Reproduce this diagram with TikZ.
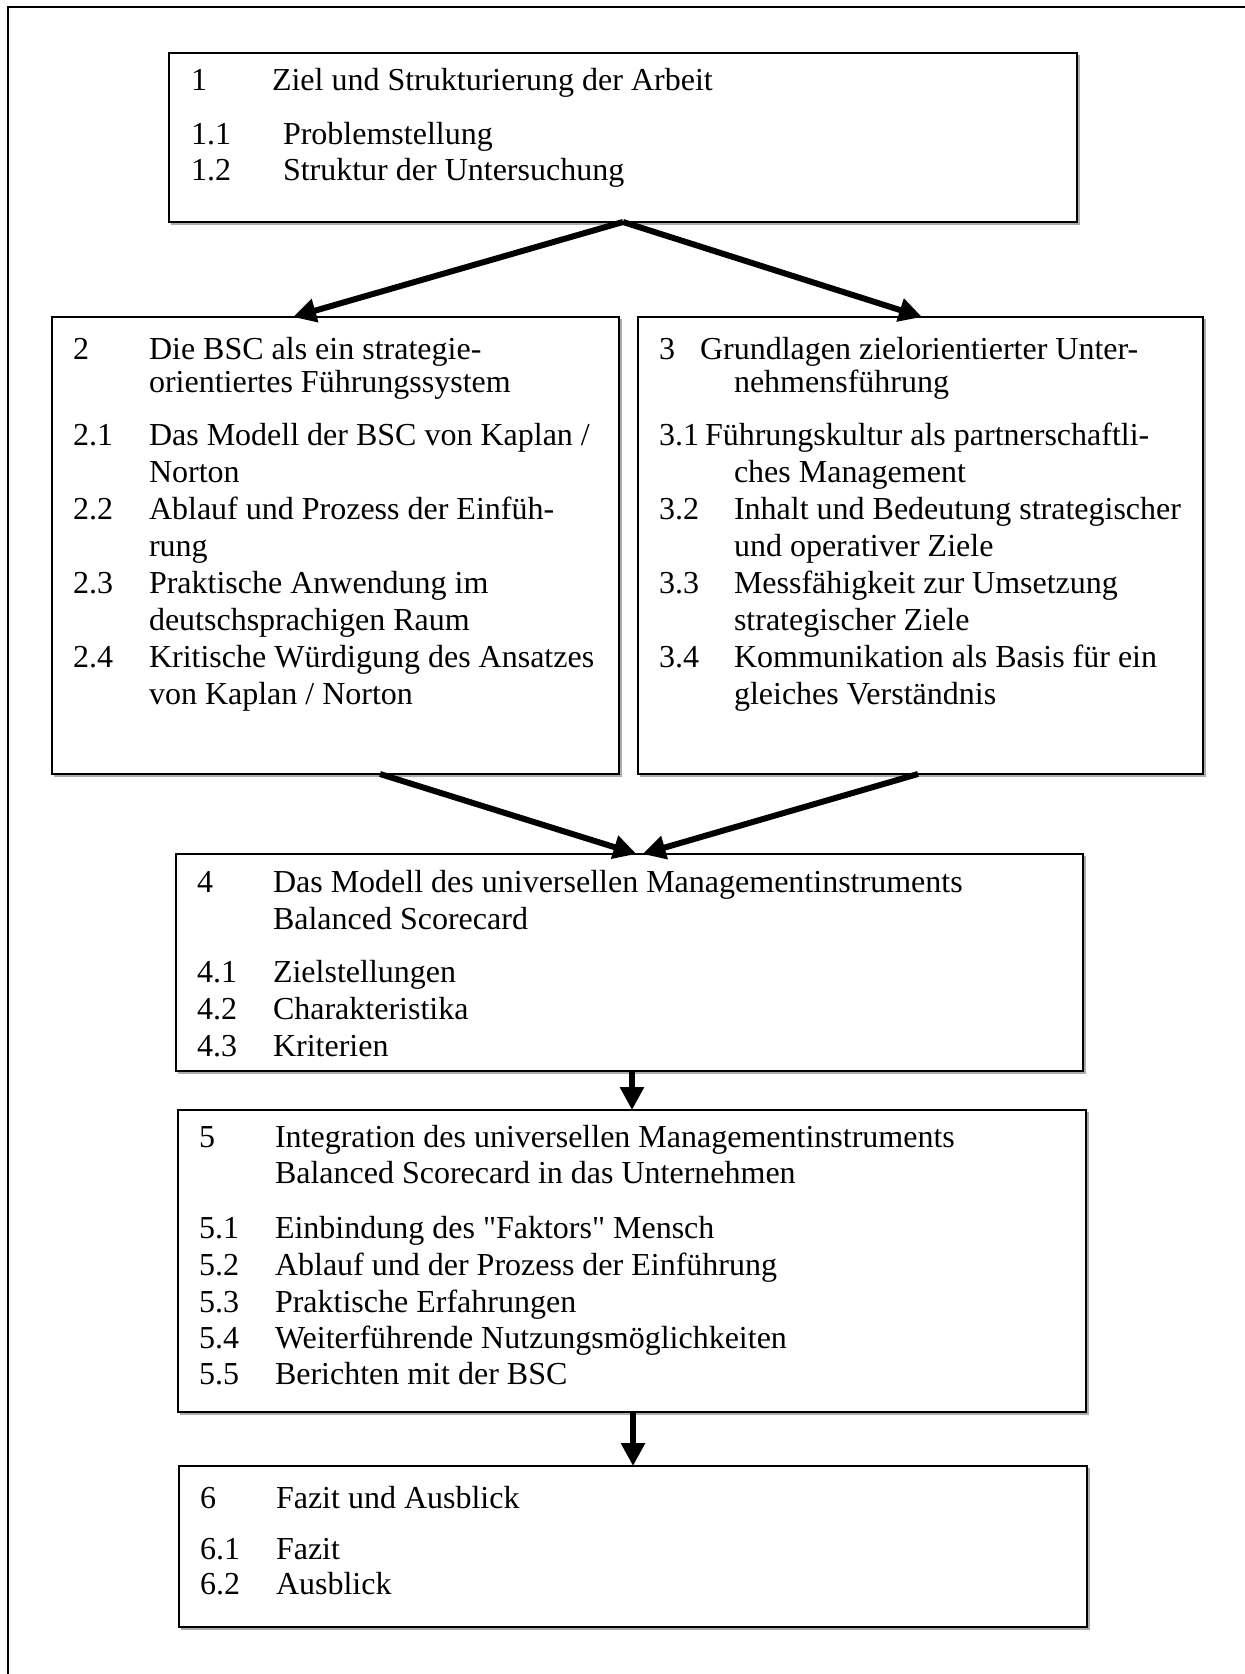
\documentclass[tikz,border=0pt]{standalone}
\usepackage{fontspec}
\setmainfont{Liberation Serif}
\newfontfamily\plainq{Liberation Serif}[Ligatures=TeXOff]
\usetikzlibrary{arrows.meta,calc}
\newcommand\putline[4]{\node[txt] (#1) at (#2,#3) {#4};}
\newcommand\sq{{\plainq"}}
\begin{document}
\begin{tikzpicture}[x=0.5pt,y=-0.5pt,
  txt/.style={anchor=base west,inner sep=0pt,outer sep=0pt,font=\fontsize{16}{18}\selectfont},
  box/.style={draw,line width=1pt,anchor=north west,inner sep=0pt,outer sep=0pt},
  shade/.style={draw=gray!65,line width=0.8pt},
  arr/.style={line width=3pt,-{Triangle[length=11.5pt,width=11.5pt]}},
  frame/.style={line width=1.2pt}]
\useasboundingbox (0,0) rectangle (1245,1674);
\draw[frame] (8,1674) -- (8,7) -- (1245,7);

% boxes
\node[box,minimum width=454pt,minimum height=84.5pt] (b1) at (169,53) {};
\node[box,minimum width=283.5pt,minimum height=228.5pt] (b2) at (52,317) {};
\node[box,minimum width=282.5pt,minimum height=228.5pt] (b3) at (638,317) {};
\node[box,minimum width=453.5pt,minimum height=108.5pt] (b4) at (176,854) {};
\node[box,minimum width=454pt,minimum height=151pt] (b5) at (178,1110) {};
\node[box,minimum width=454pt,minimum height=80.5pt] (b6) at (179,1466) {};
\foreach \b in {b1,b2,b3,b4,b5,b6}{
  \draw[shade] ([shift={(1pt,-1.1pt)}]\b.south west) -- ([shift={(1.1pt,-1.1pt)}]\b.south east) -- ([shift={(1.1pt,-1pt)}]\b.north east);
}

% box 1
\putline{n1}{191}{91}{1}
\putline{h1}{272}{91}{Ziel und Strukturierung der Arbeit}
\putline{n11}{191}{145}{1.1}
\putline{h11}{283}{145}{Problemstellung}
\putline{n12}{191}{181}{1.2}
\putline{h12}{283}{181}{Struktur der Untersuchung}

% box 2
\putline{n2}{73}{359}{2}
\putline{h2a}{149}{359}{Die BSC als ein strategie-}
\putline{h2b}{149}{393}{orientiertes Führungssystem}
\putline{n21}{73}{445}{2.1}
\putline{h21a}{149}{445}{Das Modell der BSC von Kaplan /}
\putline{h21b}{149}{482}{Norton}
\putline{n22}{73}{519}{2.2}
\putline{h22a}{149}{519}{Ablauf und Prozess der Einfüh-}
\putline{h22b}{149}{556}{rung}
\putline{n23}{73}{593}{2.3}
\putline{h23a}{149}{593}{Praktische Anwendung im}
\putline{h23b}{149}{630}{deutschsprachigen Raum}
\putline{n24}{73}{667}{2.4}
\putline{h24a}{149}{667}{Kritische Würdigung des Ansatzes}
\putline{h24b}{149}{704}{von Kaplan / Norton}

% box 3
\putline{n3}{659}{359}{3}
\putline{h3a}{700}{359}{Grundlagen zielorientierter Unter-}
\putline{h3b}{734}{393}{nehmensführung}
\putline{n31}{659}{445}{3.1}
\putline{h31a}{705}{445}{Führungskultur als partnerschaftli-}
\putline{h31b}{734}{482}{ches Management}
\putline{n32}{659}{519}{3.2}
\putline{h32a}{734}{519}{Inhalt und Bedeutung strategischer}
\putline{h32b}{734}{556}{und operativer Ziele}
\putline{n33}{659}{593}{3.3}
\putline{h33a}{734}{593}{Messfähigkeit zur Umsetzung}
\putline{h33b}{734}{630}{strategischer Ziele}
\putline{n34}{659}{667}{3.4}
\putline{h34a}{734}{667}{Kommunikation als Basis für ein}
\putline{h34b}{734}{704}{gleiches Verständnis}

% box 4
\putline{n4}{197}{892}{4}
\putline{h4a}{273}{892}{Das Modell des universellen Managementinstruments}
\putline{h4b}{273}{929}{Balanced Scorecard}
\putline{n41}{197}{982}{4.1}
\putline{h41}{273}{982}{Zielstellungen}
\putline{n42}{197}{1019}{4.2}
\putline{h42}{273}{1019}{Charakteristika}
\putline{n43}{197}{1056}{4.3}
\putline{h43}{273}{1056}{Kriterien}

% box 5
\putline{n5}{199}{1147}{5}
\putline{h5a}{275}{1147}{Integration des universellen Managementinstruments}
\putline{h5b}{275}{1183}{Balanced Scorecard in das Unternehmen}
\putline{n51}{199}{1238}{5.1}
\putline{h51}{275}{1238}{Einbindung des \sq Faktors\sq{} Mensch}
\putline{n52}{199}{1275}{5.2}
\putline{h52}{275}{1275}{Ablauf und der Prozess der Einführung}
\putline{n53}{199}{1312}{5.3}
\putline{h53}{275}{1312}{Praktische Erfahrungen}
\putline{n54}{199}{1348}{5.4}
\putline{h54}{275}{1348}{Weiterführende Nutzungsmöglichkeiten}
\putline{n55}{199}{1384}{5.5}
\putline{h55}{275}{1384}{Berichten mit der BSC}

% box 6
\putline{n6}{200}{1508}{6}
\putline{h6}{276}{1508}{Fazit und Ausblick}
\putline{n61}{200}{1559}{6.1}
\putline{h61}{276}{1559}{Fazit}
\putline{n62}{200}{1594}{6.2}
\putline{h62}{276}{1594}{Ausblick}

% connectors
\draw[arr] (b1.south) -- ([xshift=120.5pt]b2.north west);
\draw[arr] (b1.south) -- ([xshift=142pt]b3.north west);
\draw[arr] ([xshift=164pt]b2.south west) -- ([xshift=3.5pt]b4.north);
\draw[arr] ([xshift=140pt]b3.south west) -- ([xshift=6.5pt]b4.north);
\draw[arr] (b5.north |- b4.south) -- (b5.north);
\draw[arr] (b6.north |- b5.south) -- (b6.north);
\end{tikzpicture}
\end{document}
